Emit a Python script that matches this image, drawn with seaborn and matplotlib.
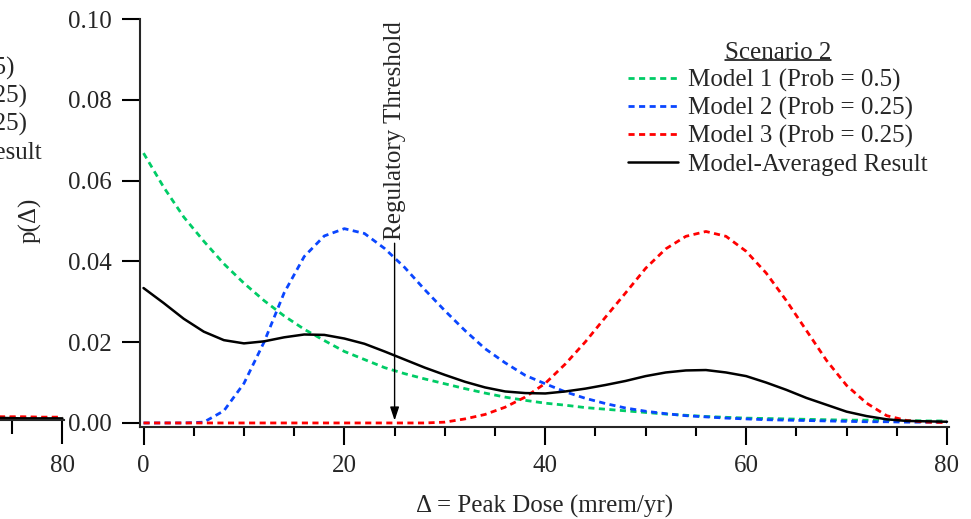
import matplotlib
matplotlib.use("Agg")
import matplotlib.pyplot as plt
import seaborn as sns
from matplotlib.lines import Line2D
from matplotlib.ticker import MultipleLocator, FormatStrFormatter

# ---------------- data ----------------
dose = [0, 2, 4, 6, 8, 10, 12, 14, 16, 18, 20, 22, 24, 26, 28, 30, 32, 34, 36, 38,
        40, 42, 44, 46, 48, 50, 52, 54, 56, 58, 60, 62, 64, 66, 68, 70, 72, 74, 76, 78, 80]

model1 = [0.0668, 0.0584, 0.0510, 0.0450, 0.0394, 0.0346, 0.0303, 0.0265, 0.0232, 0.0204,
          0.0177, 0.0157, 0.0137, 0.0122, 0.0109, 0.0097, 0.0085, 0.0074, 0.0064, 0.0056,
          0.0049, 0.0044, 0.0038, 0.0034, 0.0030, 0.0026, 0.0022, 0.0019, 0.0016, 0.0014,
          0.0012, 0.0011, 0.0010, 0.0009, 0.0008, 0.0007, 0.0007, 0.0006, 0.0006, 0.0005, 0.0005]

model2 = [0.0, 0.0, 0.0, 0.0002, 0.0030, 0.0098, 0.0200, 0.0322, 0.0412, 0.0463,
          0.0481, 0.0469, 0.0432, 0.0385, 0.0330, 0.0278, 0.0229, 0.0184, 0.0149, 0.0118,
          0.0097, 0.0077, 0.0061, 0.0048, 0.0037, 0.0029, 0.0023, 0.0018, 0.0015, 0.0012,
          0.0010, 0.0008, 0.0007, 0.0006, 0.0005, 0.0004, 0.0003, 0.0003, 0.0002, 0.0002, 0.0002]

model3 = [0.0, 0.0, 0.0, 0.0, 0.0, 0.0, 0.0, 0.0, 0.0, 0.0,
          0.0, 0.0, 0.0, 0.0, 0.0, 0.0002, 0.0010, 0.0021, 0.0039, 0.0064,
          0.0098, 0.0146, 0.0201, 0.0262, 0.0322, 0.0383, 0.0431, 0.0462, 0.0474, 0.0462,
          0.0425, 0.0371, 0.0303, 0.0229, 0.0155, 0.0093, 0.0049, 0.0018, 0.0006, 0.0002, 0.0001]

averaged = [0.0334, 0.0297, 0.0258, 0.0226, 0.0205, 0.0197, 0.0202, 0.0212, 0.0219, 0.0218,
            0.0209, 0.0196, 0.0177, 0.0157, 0.0137, 0.0119, 0.0102, 0.0088, 0.0078, 0.0074,
            0.0073, 0.0078, 0.0085, 0.0094, 0.0104, 0.0116, 0.0125, 0.0130, 0.0131, 0.0125,
            0.0116, 0.0100, 0.0082, 0.0062, 0.0045, 0.0028, 0.0017, 0.0009, 0.0005, 0.0004, 0.0003]

# tail of the neighbouring (Scenario 1) panel, visible at the left edge
s1_dose = [70, 72, 74, 76, 78, 80]
s1_model1 = [0.0006, 0.0006, 0.0006, 0.0005, 0.0005, 0.0005]
s1_model2 = [0.0005, 0.0005, 0.0004, 0.0004, 0.0004, 0.0004]
s1_model3 = [0.0009, 0.0009, 0.0008, 0.0008, 0.0007, 0.0007]
s1_averaged = [0.0005, 0.0005, 0.0005, 0.0004, 0.0004, 0.0004]

series_labels = ["Model 1 (Prob = 0.5)", "Model 2 (Prob = 0.25)",
                 "Model 3 (Prob = 0.25)", "Model-Averaged Result"]
legend_title = "Scenario 2"
threshold = 25
threshold_label = "Regulatory Threshold"
xlabel = "\u0394 = Peak Dose (mrem/yr)"
ylabel = "p(\u0394)"
xticks = [0, 20, 40, 60, 80]
yticks = [0.00, 0.02, 0.04, 0.06, 0.08, 0.10]

colors = ["#00CC66", "#0A46FF", "#FF0000", "#000000"]

# ---------------- style ----------------
sns.set_style("ticks")
plt.rcParams["font.family"] = ["Liberation Serif", "DejaVu Serif"]
plt.rcParams["axes.linewidth"] = 1.5

W, H = 971, 519
fig = plt.figure(figsize=(W / 100, H / 100), dpi=100)


def box(l, b, r, t):
    return [l / W, 1 - b / H, (r - l) / W, (b - t) / H]


DASH = (0, (2.2, 1.6))


def draw_series(ax, x, ys, lw_dash=2.0, lw_solid=1.8):
    for y, c, lab in zip(ys, colors, series_labels):
        solid = c == "#000000"
        sns.lineplot(x=x, y=y, ax=ax, color=c, errorbar=None, sort=False,
                     linewidth=lw_solid if solid else lw_dash,
                     linestyle="-" if solid else DASH,
                     label=lab, legend=False)


def style_axes(ax, major_len, minor_len):
    ax.spines["top"].set_visible(False)
    ax.spines["right"].set_visible(False)
    ax.set_xticks(xticks)
    ax.xaxis.set_minor_locator(MultipleLocator(5))
    ax.set_yticks(yticks)
    ax.yaxis.set_major_formatter(FormatStrFormatter("%.2f"))
    ax.tick_params(axis="both", which="major", direction="out", length=major_len,
                   width=1.5, labelsize=18, pad=7, color="black")
    ax.tick_params(axis="x", which="minor", direction="out", length=minor_len,
                   width=1.5, color="black")
    ax.set_facecolor("white")


LEG_KW = dict(loc="upper left", bbox_transform=fig.transFigure, frameon=False,
              fontsize=18, title_fontsize=18, handlelength=2.0, handletextpad=0.4,
              labelspacing=0.2, borderpad=0, borderaxespad=0)

# ---------------- neighbouring panel (mostly outside the figure) ----------------
axL = fig.add_axes(box(-745.2, 420, 64.4, 12))
axL.set_xlim(-0.4, 80.2)
axL.set_ylim(0, 0.1)
draw_series(axL, s1_dose, [s1_model1, s1_model2, s1_model3, s1_averaged])
style_axes(axL, 17, 10)
axL.tick_params(axis="x", which="major", pad=8.5)
axL.set_xlabel("")
axL.set_ylabel("")
axL.legend(title="Scenario 1", bbox_to_anchor=((628 - 886) / W, 1 - 30 / H), **LEG_KW)

# ---------------- main panel ----------------
ax = fig.add_axes(box(139.5, 427, 949, 19))
ax.set_xlim(-0.4, 80.2)
ax.set_ylim(-0.001, 0.1)
draw_series(ax, dose, [model1, model2, model3, averaged])
style_axes(ax, 13, 6.5)

ax.set_xlabel(xlabel, fontsize=18)
ax.xaxis.set_label_coords(0.5, (427 - 506) / 408)
ax.xaxis.label.set_va("center")
ax.set_ylabel(ylabel, fontsize=18)
ax.yaxis.set_label_coords((30 - 139.5) / 809.5, (427 - 220) / 408)
ax.yaxis.label.set_va("center")

ax.annotate(threshold_label, xy=(threshold, 0.0006), xytext=(threshold, 0.0453),
            textcoords="data", rotation=90, ha="center", va="bottom", fontsize=18,
            arrowprops=dict(arrowstyle="-|>,head_length=0.45,head_width=0.15",
                            color="black", lw=1.0, shrinkA=0, shrinkB=0))

leg = ax.legend(title=legend_title, bbox_to_anchor=(628 / W, 1 - 42 / H), **LEG_KW)

# underline the legend title
fig.canvas.draw()
renderer = fig.canvas.get_renderer()
bb = leg.get_title().get_window_extent(renderer)
inv = fig.transFigure.inverted()
(x0, y0), (x1, _) = inv.transform([(bb.x0, bb.y0 + 4.5), (bb.x1, bb.y0 + 4.5)])
fig.add_artist(Line2D([x0, x1], [y0, y0], transform=fig.transFigure, color="black", lw=1.1))

fig.savefig("out.png", dpi=100)
